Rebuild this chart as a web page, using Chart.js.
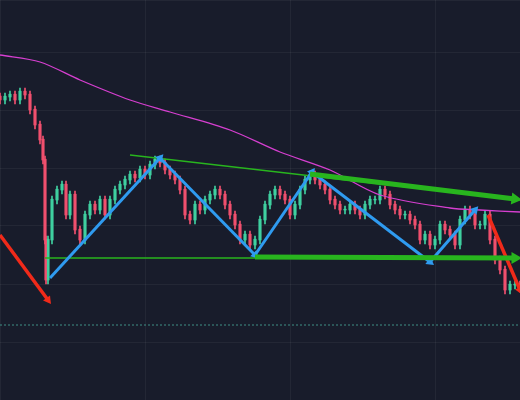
<!DOCTYPE html><html><head><meta charset="utf-8">
<script src="https://cdn.jsdelivr.net/npm/chart.js@4"></script>
<style>html,body{margin:0;background:#181c2b;overflow:hidden;}#w{width:534px;height:414px;margin:-7px 0 0 -7px;}</style></head><body><div id="w"><canvas id="c"></canvas></div>
<script>
// candle x positions (time index) and close prices
const candleX=[0,5,10,15,20,25,30,35,40,43,45,46,48,52,57,62,66,70,75,80,85,90,95,100,105,110,115,120,125,130,135,140,145,150,155,160,165,170,175,180,185,190,195,200,205,210,215,220,225,230,235,240,245,250,255,260,265,270,275,280,285,290,295,300,305,310,315,320,325,330,335,340,345,350,355,360,365,370,375,380,385,390,395,400,405,410,415,420,425,430,435,440,445,450,455,460,465,470,475,480,485,490,495,500,505,510,515,520];
const closes=[300,303,305,300,308,305,290,275,260,240,160,120,160,200,210,215,185,205,170,160,185,195,190,200,185,200,210,215,220,225,222,230,225,235,240,237,230,225,220,210,185,180,195,190,200,205,210,205,195,185,175,160,165,155,160,180,195,205,210,205,200,185,195,210,220,225,220,215,210,200,195,190,190,195,190,185,195,200,200,210,205,195,190,185,185,180,175,160,165,155,160,175,170,165,155,180,190,185,175,175,185,160,140,130,110,115,115,112];
const maX=[0,40,80,130,170,230,280,330,380,450,480,520];
const maY=[345,338,320,300,288,270,248,230,205,192,190,188];
const upperX=[130,520]; const upperY=[245,200];
const lowerX=[45,515]; const lowerY=[142,142];
const blueLegs=[[[50,122],[160,242]],[[160,242],[255,145]],[[255,145],[312,228]],[[312,228],[430,138]],[[430,138],[475,190]]];
const redLegs=[[[0,165],[48,100]],[[488,185],[520,110]]];
const supportY=75;

const UP='#3fd0a0',DN='#f0506e';
const wick=[],body=[],cols=[];
for(let i=0;i<candleX.length;i++){const o=i?closes[i-1]:closes[0]+3,c=closes[i];
 wick.push({x:candleX[i],y:[Math.min(o,c)-4,Math.max(o,c)+4]});
 body.push({x:candleX[i],y:[Math.min(o,c),Math.max(o,c)+0.8]});cols.push(c>=o?UP:DN);}
const pts=(xs,ys)=>xs.map((x,i)=>({x,y:ys[i]}));
function rot(a,b){return Math.atan2(b[0]-a[0],b[1]-a[1])*180/Math.PI;}
function arrow(seg,color,w,head){return {type:'line',data:seg.map(p=>({x:p[0],y:p[1]})),borderColor:color,backgroundColor:color,borderWidth:w,
 pointRadius:[0,head],pointStyle:'triangle',pointRotation:[0,rot(seg[0],seg[1])],pointBorderWidth:0,tension:0,order:0,clip:false};}
const ds=[
 {type:'bar',data:wick,backgroundColor:cols,barThickness:1,grouped:false,order:3},
 {type:'bar',data:body,backgroundColor:cols,barThickness:2.5,grouped:false,order:3},
 {type:'line',data:pts(maX,maY),borderColor:'#d63fd0',borderWidth:1.3,pointRadius:0,tension:0.3,order:2},
 {type:'line',data:[{x:0,y:supportY},{x:520,y:supportY}],borderColor:'#3f8f86',borderWidth:1,borderDash:[2,2],pointRadius:0,order:2},
 {type:'line',data:pts(upperX,upperY),borderColor:'#28b51e',borderWidth:1.5,pointRadius:0,order:1},
 arrow([[310,226],[515,201]],'#28b51e',5,7),
 {type:'line',data:pts(lowerX,lowerY),borderColor:'#28b51e',borderWidth:1.5,pointRadius:0,order:1},
 arrow([[255,143],[515,142]],'#28b51e',5,7),
];
blueLegs.forEach(s=>ds.push(arrow(s,'#2f9bf0',3,5)));
redLegs.forEach(s=>ds.push(arrow(s,'#f02a1a',3.5,5)));
new Chart(document.getElementById('c'),{data:{datasets:ds},options:{responsive:true,maintainAspectRatio:false,animation:false,
 layout:{padding:0},plugins:{legend:{display:false},tooltip:{enabled:false}},
 scales:{x:{type:'linear',min:0,max:520,offset:false,ticks:{display:false,stepSize:145},border:{display:false},grid:{offset:false,color:'rgba(255,255,255,0.05)',drawTicks:false,tickLength:0}},
 y:{type:'linear',min:0,max:400,ticks:{display:false,stepSize:58},border:{display:false},grid:{color:'rgba(255,255,255,0.05)',drawTicks:false,tickLength:0}}}}});
</script></body></html>
